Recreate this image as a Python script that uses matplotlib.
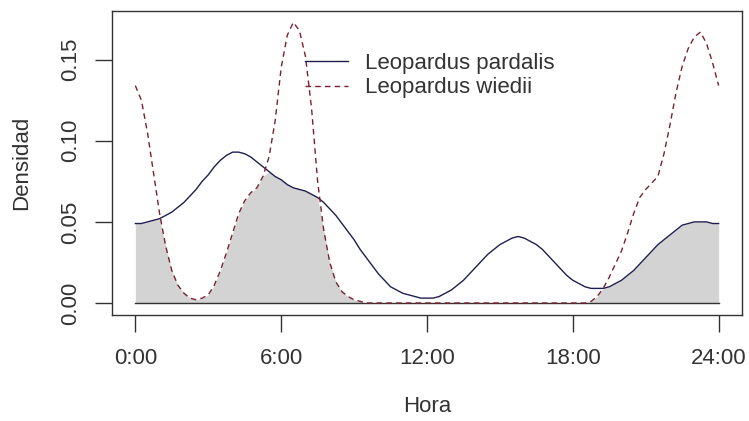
import numpy as np
import matplotlib
matplotlib.use('Agg')
import matplotlib.pyplot as plt

plt.rcParams['font.family'] = ['Liberation Sans', 'DejaVu Sans']

# hours of the day, every quarter hour
hora = np.arange(0, 24.25, 0.25)

# activity density, Leopardus pardalis (solid)
pardalis = [0.049, 0.049, 0.050, 0.051, 0.052, 0.054, 0.056, 0.059,
            0.062, 0.066, 0.070, 0.075, 0.079, 0.084, 0.088, 0.091,
            0.093, 0.093, 0.092, 0.090, 0.087, 0.084, 0.081, 0.078,
            0.076, 0.073, 0.071, 0.070, 0.069, 0.067, 0.065, 0.062,
            0.058, 0.054, 0.049, 0.044, 0.039, 0.033, 0.028, 0.023,
            0.018, 0.014, 0.010, 0.008, 0.006, 0.005, 0.004, 0.003,
            0.003, 0.003, 0.004, 0.006, 0.008, 0.011, 0.014, 0.018,
            0.022, 0.026, 0.030, 0.033, 0.036, 0.038, 0.040, 0.041,
            0.040, 0.038, 0.036, 0.033, 0.029, 0.025, 0.021, 0.017,
            0.014, 0.012, 0.010, 0.009, 0.009, 0.009, 0.010, 0.012,
            0.014, 0.017, 0.020, 0.024, 0.028, 0.032, 0.036, 0.039,
            0.042, 0.045, 0.048, 0.049, 0.050, 0.050, 0.050, 0.049,
            0.049]

# activity density, Leopardus wiedii (dashed)
wiedii = ([0.134, 0.125, 0.105, 0.080, 0.055, 0.035, 0.020, 0.011,
           0.006, 0.003, 0.002, 0.003, 0.005, 0.011, 0.020, 0.031,
           0.043, 0.055, 0.063, 0.068, 0.071, 0.078, 0.090, 0.112,
           0.145, 0.165, 0.173, 0.168, 0.152, 0.120, 0.075, 0.045,
           0.025, 0.013, 0.007, 0.004, 0.002, 0.001]
          + [0.0] * 37
          + [0.001, 0.004, 0.009, 0.016, 0.024, 0.032, 0.043, 0.055,
             0.065, 0.070, 0.074, 0.078, 0.092, 0.110, 0.130, 0.146,
             0.157, 0.164, 0.167, 0.160, 0.148, 0.134])

xticks = [0, 6, 12, 18, 24]
xlabels = ['0:00', '6:00', '12:00', '18:00', '24:00']
yticks = [0.00, 0.05, 0.10, 0.15]
ylabels = ['0.00', '0.05', '0.10', '0.15']

col_p = '#1f1f4f'
col_w = '#7a2030'

fig = plt.figure(figsize=(7.49, 4.21), dpi=100)
ax = fig.add_axes([112 / 749, 1 - 315 / 421, 630 / 749, 304 / 421])

overlap = np.minimum(pardalis, wiedii)
ax.fill_between(hora, 0, overlap, color='#d3d3d3', linewidth=0)
ax.plot([0, 24], [0, 0], color='#333333', linewidth=1.0)
ax.plot(hora, pardalis, color=col_p, linewidth=1.0, label='Leopardus pardalis')
ax.plot(hora, wiedii, color=col_w, linewidth=1.0, linestyle=(0, (4, 3)),
        label='Leopardus wiedii')

ax.set_xlim(-0.96, 24.96)
ax.set_ylim(-0.0074, 0.180)

ax.set_xticks(xticks)
ax.set_xticklabels(xlabels)
ax.set_yticks(yticks)
ax.set_yticklabels(ylabels, rotation=90, va='center')
ax.tick_params(axis='both', length=12, width=1.0, color='#333333',
               labelsize=16, labelcolor='#333333')
ax.tick_params(axis='x', pad=12)
ax.tick_params(axis='y', pad=10)
for s in ax.spines.values():
    s.set_color('#333333')
    s.set_linewidth(1.0)

fig.text(22 / 749, 1 - 163 / 421, 'Densidad', rotation=90, fontsize=16,
         color='#333333', ha='center', va='center')
fig.text(427 / 749, 1 - 407 / 421, 'Hora', fontsize=16, color='#333333',
         ha='center', va='center')

ax.legend(loc='upper left', bbox_to_anchor=(0.306, 0.862), frameon=False,
          fontsize=16, handlelength=1.95, handletextpad=0.75, labelspacing=0.15,
          borderpad=0, borderaxespad=0, labelcolor='#333333')

fig.savefig('out.png', dpi=100)
